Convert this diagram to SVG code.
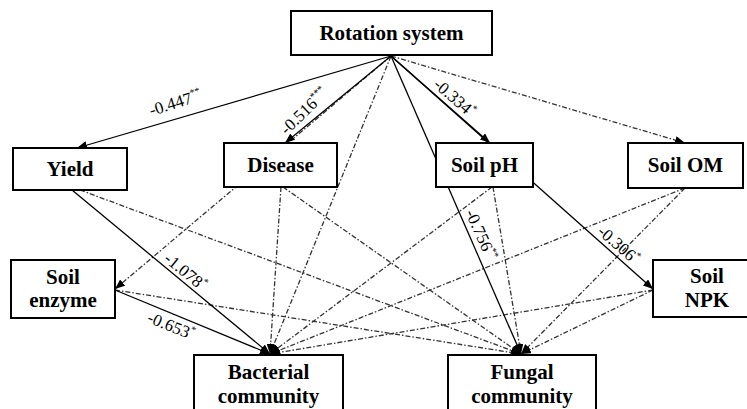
<svg xmlns="http://www.w3.org/2000/svg" width="747" height="409" viewBox="0 0 747 409">
<defs>
<marker id="ah" viewBox="0 0 10 8" refX="10" refY="4" markerWidth="10" markerHeight="8" markerUnits="userSpaceOnUse" orient="auto">
<path d="M0,0 L10,4 L0,8 z" fill="#000"/>
</marker>
<style>
.box{fill:#fff;stroke:#000;stroke-width:2}
.nt{font-family:'Liberation Serif','DejaVu Serif',serif;font-weight:bold;font-size:21px;fill:#000;text-anchor:middle}
.s{fill:none;stroke:#000;stroke-width:1.3}
.d{fill:none;stroke:#333;stroke-width:1.3;stroke-dasharray:5 2 1.5 2}
.a{marker-end:url(#ah)}
.lb{font-family:'Liberation Serif','DejaVu Serif',serif;font-size:17px;fill:#000;text-anchor:middle}
.sup{font-size:10px}
</style>
</defs>
<rect width="747" height="409" fill="#fff"/>
<g id="connectors">
<line class="d a" x1="391" y1="56" x2="685" y2="143"/>
<line class="d a" x1="391" y1="56" x2="115" y2="289"/>
<line class="d a" x1="391" y1="56" x2="270" y2="354"/>
<line class="d a" x1="80" y1="190" x2="521" y2="354"/>
<line class="d a" x1="281" y1="187" x2="270" y2="354"/>
<line class="d a" x1="283" y1="187" x2="521" y2="354"/>
<line class="d a" x1="492" y1="187" x2="270" y2="354"/>
<line class="d a" x1="493" y1="187" x2="521" y2="354"/>
<line class="d a" x1="685" y1="188" x2="270" y2="354"/>
<line class="d a" x1="685" y1="188" x2="521" y2="354"/>
<line class="d a" x1="115" y1="290" x2="521" y2="354"/>
<line class="d a" x1="653" y1="290" x2="270" y2="354"/>
<line class="d a" x1="653" y1="290" x2="521" y2="354"/>
<line class="s a" x1="391" y1="56" x2="77" y2="148"/>
<line class="s a" x1="391" y1="56" x2="285" y2="143"/>
<line class="s a" x1="391" y1="56" x2="490" y2="143"/>
<line class="s a" x1="391" y1="56" x2="653" y2="289"/>
<line class="s a" x1="391" y1="56" x2="521" y2="354"/>
<line class="s a" x1="72" y1="190" x2="270" y2="354"/>
<line class="s a" x1="115" y1="290" x2="270" y2="354"/>
</g>
<g id="labels" font-family="Liberation Serif, DejaVu Serif, serif">
<text class="lb" transform="translate(177,108) rotate(-17.5)">-0.447<tspan class="sup" dy="-7">**</tspan></text>
<text class="lb" transform="translate(308,115) rotate(-44)">-0.516<tspan class="sup" dy="-7">***</tspan></text>
<text class="lb" transform="translate(451,102) rotate(41)">-0.334<tspan class="sup" dy="-7">*</tspan></text>
<text class="lb" transform="translate(476,237) rotate(66)">-0.756<tspan class="sup" dy="-7">**</tspan></text>
<text class="lb" transform="translate(615,249) rotate(41)">-0.306<tspan class="sup" dy="-7">*</tspan></text>
<text class="lb" transform="translate(182,276) rotate(39)">-1.078<tspan class="sup" dy="-7">*</tspan></text>
<text class="lb" transform="translate(169,331) rotate(22)">-0.653<tspan class="sup" dy="-7">*</tspan></text>
</g>
<g id="node-rotation"><rect class="box" x="291" y="11" width="201" height="44"/><text class="nt" x="391.5" y="40">Rotation system</text></g>
<g id="node-yield"><rect class="box" x="13" y="148" width="114" height="42"/><text class="nt" x="70" y="176">Yield</text></g>
<g id="node-disease"><rect class="box" x="224" y="143" width="113" height="44"/><text class="nt" x="280.5" y="172">Disease</text></g>
<g id="node-ph"><rect class="box" x="436" y="143" width="97" height="44"/><text class="nt" x="484.5" y="172">Soil pH</text></g>
<g id="node-om"><rect class="box" x="628" y="143" width="115" height="45"/><text class="nt" x="685.5" y="172">Soil OM</text></g>
<g id="node-enzyme"><rect class="box" x="11" y="260" width="104" height="58"/><text class="nt" x="63" y="284">Soil</text><text class="nt" x="63" y="307">enzyme</text></g>
<g id="node-npk"><rect class="box" x="653" y="260" width="100" height="57"/><text class="nt" x="707" y="283">Soil</text><text class="nt" x="707" y="307">NPK</text></g>
<g id="node-bacterial"><rect class="box" x="194" y="355" width="149" height="70"/><text class="nt" x="268.5" y="379">Bacterial</text><text class="nt" x="268.5" y="403">community</text></g>
<g id="node-fungal"><rect class="box" x="448" y="355" width="148" height="70"/><text class="nt" x="522" y="379">Fungal</text><text class="nt" x="522" y="403">community</text></g>
</svg>
